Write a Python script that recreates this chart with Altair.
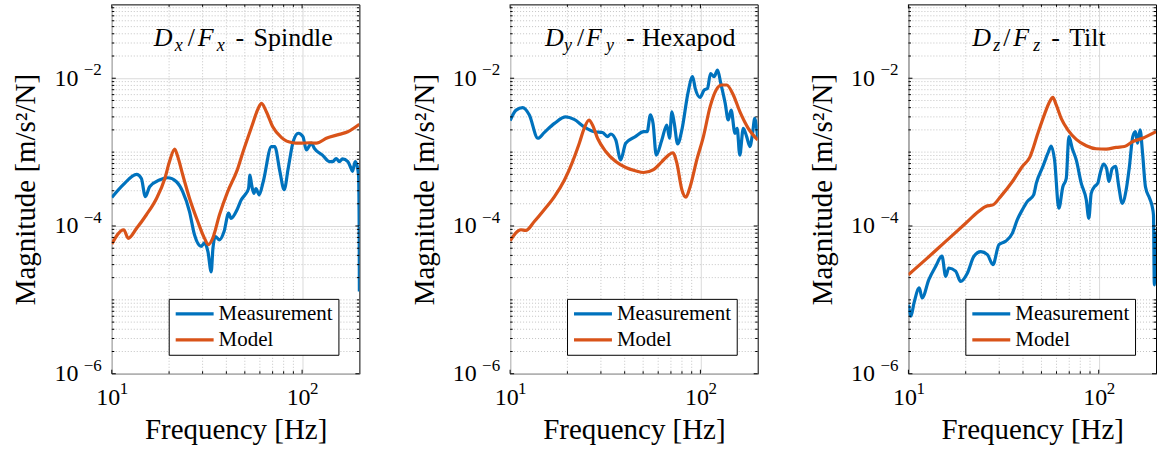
import altair as alt
import pandas as pd

FONT = "Liberation Serif"
BLUE = "#0072BD"
ORANGE = "#D95319"
GRID_MAJOR = "#dadada"
GRID_MINOR = "#c4c4c4"

# ---- D_x / F_x : Spindle ----
spindle_meas_f = [10, 11.46, 13.5, 14.3, 15, 15.8, 17.8, 19.7, 21.8, 23.6, 25.6, 27.2, 29.5, 30.7,
                  32.0, 33.3, 34.0, 35.0, 36.8, 38.9, 41.1, 42.3, 45.7, 47.9, 50.1, 52.3, 53.2, 54.3,
                  55.8, 57.2, 59.5, 62.5, 69.0, 71.8, 76.4, 80.5, 84.5, 89.8, 95.6, 101, 105.3, 112,
                  116, 128, 139, 145, 151, 157, 163, 174, 181, 184, 190, 194, 198, 199.5, 200]
spindle_meas_m = [2.43e-4, 3.6e-4, 5.0e-4, 4.4e-4, 2.5e-4, 3.4e-4, 4.2e-4, 4.5e-4, 4.0e-4, 2.9e-4,
                  1.57e-4, 7.6e-5, 5.3e-5, 5.9e-5, 4.5e-5, 2.4e-5, 5.0e-5, 7.2e-5, 6.5e-5, 8.4e-5,
                  1.49e-4, 1.27e-4, 1.7e-4, 2.26e-4, 2.64e-4, 3.2e-4, 4.9e-4, 3.6e-4, 2.77e-4, 3.2e-4,
                  2.64e-4, 4.0e-4, 1.19e-3, 1.19e-3, 5.5e-4, 3.1e-4, 6.0e-4, 1.39e-3, 1.8e-3, 1.62e-3,
                  1.07e-3, 1.32e-3, 1.12e-3, 9.1e-4, 7.45e-4, 7.45e-4, 8.2e-4, 7.45e-4, 8.1e-4,
                  7.45e-4, 6.0e-4, 5.5e-4, 7.45e-4, 6.7e-4, 4.9e-4, 1.0e-4, 1.3e-5]
spindle_model_f = [10, 11.55, 12.2, 13.5, 15.2, 17.2, 19.0, 20.1, 21.4, 22.2, 23.6, 25.6, 28.3, 30.7,
                   32.2, 33.9, 36.8, 40.6, 45.7, 49, 54.3, 58.8, 61.2, 65.0, 70.1, 78, 89, 97, 110,
                   119, 134, 157, 174, 200]
spindle_model_m = [5.7e-5, 8.9e-5, 6.8e-5, 9.3e-5, 1.42e-4, 2.38e-4, 4.4e-4, 7.45e-4, 1.1e-3, 8.7e-4,
                   4.9e-4, 2.38e-4, 1.15e-4, 6.8e-5, 5.6e-5, 6.8e-5, 1.42e-4, 2.9e-4, 5.8e-4, 1.02e-3,
                   2.2e-3, 3.9e-3, 4.57e-3, 3.5e-3, 2.2e-3, 1.57e-3, 1.34e-3, 1.32e-3, 1.34e-3,
                   1.32e-3, 1.54e-3, 1.74e-3, 1.89e-3, 2.38e-3]

# ---- D_y / F_y : Hexapod ----
hexapod_meas_f = [10, 10.75, 11.65, 12.6, 14.0, 15.1, 17.1, 19.6, 21.7, 24.5, 27.7, 30.6, 32.5, 33.8,
                  35.9, 38.1, 40.5, 45.5, 50.3, 52.5, 54.6, 56.4, 58.6, 62.7, 66.6, 68.8, 70.8, 72.9,
                  75.9, 80.2, 85.9, 91.0, 93.9, 99.6, 104.5, 109, 113, 118, 123, 128, 135, 140, 145,
                  152, 156, 161, 168, 175, 182, 188, 193, 200]
hexapod_meas_m = [2.67e-3, 3.7e-3, 4.0e-3, 3.2e-3, 1.54e-3, 1.84e-3, 2.45e-3, 3.0e-3, 2.77e-3, 2.2e-3,
                  1.89e-3, 1.84e-3, 1.62e-3, 1.76e-3, 1.46e-3, 7.85e-4, 1.32e-3, 1.62e-3, 1.89e-3,
                  1.89e-3, 3.2e-3, 2.45e-3, 9.1e-4, 1.46e-3, 2.33e-3, 1.54e-3, 3.5e-3, 2.45e-3,
                  1.29e-3, 2.1e-3, 6.2e-3, 1.05e-2, 7.3e-3, 5.5e-3, 6.9e-3, 7.3e-3, 1.16e-2, 1.05e-2,
                  1.29e-2, 8.5e-3, 4.57e-3, 2.72e-3, 3.7e-3, 1.8e-3, 2.1e-3, 9.1e-4, 2.1e-3, 1.62e-3,
                  1.19e-3, 1.8e-3, 2.86e-3, 1.54e-3]
hexapod_model_f = [10, 11.4, 12.1, 13.4, 15.1, 17.1, 19.3, 21.3, 23.1, 24.5, 26.0, 27.1, 28.8, 31.8,
                   35.9, 40.5, 45.5, 50.3, 56.7, 62.8, 68.0, 71.7, 75.2, 79.9, 83.9, 88.3, 95.7,
                   103.7, 112.4, 120.8, 129.4, 137.5, 148.9, 161.4, 178.4, 200]
hexapod_model_m = [6.3e-5, 8.9e-5, 8.7e-5, 1.15e-4, 1.66e-4, 2.5e-4, 4.2e-4, 7.45e-4, 1.32e-3, 2.1e-3,
                   2.72e-3, 2.33e-3, 1.54e-3, 1.02e-3, 7.45e-4, 6.2e-4, 5.6e-4, 5.3e-4, 5.8e-4,
                   7.45e-4, 9.1e-4, 9.8e-4, 7.1e-4, 3.1e-4, 2.46e-4, 3.4e-4, 7.85e-4, 1.62e-3, 4.1e-3,
                   6.9e-3, 8.1e-3, 8.1e-3, 5.93e-3, 3.5e-3, 2.1e-3, 1.46e-3]

# ---- D_z / F_z : Tilt ----
tilt_meas_f = [10, 10.3, 10.7, 11.4, 11.8, 12.8, 13.9, 15.0, 15.7, 16.3, 17.7, 18.8, 20.4, 22.1, 24.0,
               26.0, 27.8, 29.9, 32.4, 35.2, 37.3, 39.7, 42.1, 45.5, 47.0, 50.9, 54.0, 56.3, 58.6,
               61.7, 64.8, 67.5, 69.7, 72.6, 76.2, 80.9, 86.0, 88.7, 91.3, 95.0, 98.9, 101.8, 106,
               110, 113, 117.8, 122.5, 127.5, 132.9, 139.4, 145, 151, 156, 160, 165, 170, 176, 185,
               191, 194, 196, 198, 200]
tilt_meas_m = [8.6e-6, 6.0e-6, 9.1e-6, 1.45e-5, 1.06e-5, 1.88e-5, 2.84e-5, 3.9e-5, 2.08e-5, 2.7e-5,
               2.45e-5, 1.78e-5, 2.3e-5, 3.9e-5, 4.5e-5, 4.1e-5, 3.0e-5, 5.6e-5, 6.2e-5, 8.0e-5,
               1.21e-4, 1.66e-4, 2.14e-4, 2.64e-4, 3.8e-4, 6.4e-4, 9.6e-4, 1.21e-3, 7.85e-4, 1.74e-4,
               3.4e-4, 4.4e-4, 1.62e-3, 1.12e-3, 7.85e-4, 3.8e-4, 2.26e-4, 1.27e-4, 2.77e-4, 3.4e-4,
               3.8e-4, 5.2e-4, 6.9e-4, 6.0e-4, 4.0e-4, 6.0e-4, 6.4e-4, 3.4e-4, 2.03e-4, 3.1e-4,
               6.4e-4, 1.62e-3, 1.89e-3, 1.32e-3, 2.0e-3, 9.6e-4, 3.4e-4, 2.38e-4, 1.84e-4, 1.4e-4,
               1.6e-5, 7.0e-5, 8.5e-5]
tilt_model_f = [10, 12.3, 15.7, 20.0, 23.0, 25.5, 27.8, 30.5, 35.2, 39.7, 43.4, 47.9, 52.0, 55.2,
                57.4, 59.8, 63.5, 68.8, 76.2, 86.0, 97, 109.5, 123.6, 136.6, 151, 170, 200]
tilt_model_m = [2.19e-5, 3.5e-5, 6.2e-5, 1.09e-4, 1.52e-4, 1.84e-4, 1.93e-4, 2.5e-4, 4.0e-4, 6.4e-4,
                8.5e-4, 1.8e-3, 3.3e-3, 4.8e-3, 5.5e-3, 4.35e-3, 2.86e-3, 2.0e-3, 1.49e-3, 1.22e-3,
                1.11e-3, 1.1e-3, 1.16e-3, 1.19e-3, 1.39e-3, 1.54e-3, 1.89e-3]

series_names = ["Measurement", "Model"]
tick_base = "10"
x_tick_values = [10, 100]
x_tick_exponents = ["1", "2"]
y_tick_values = [1e-6, 1e-4, 1e-2]
y_tick_exponents = ["−6", "−4", "−2"]
x_title = "Frequency [Hz]"
y_title = "Magnitude [m/s²/N]"

# Panel titles, as (text, style, left offset in px); style: "i" italic, "s" italic subscript, "r" roman
panel_titles = [
    [("D", "i", 42), ("x", "s", 63), ("/", "r", 76), ("F", "i", 86), ("x", "s", 105),
     ("-", "r", 124), ("Spindle", "r", 142)],
    [("D", "i", 35), ("y", "s", 54), ("/", "r", 67), ("F", "i", 76), ("y", "s", 96),
     ("-", "r", 116), ("Hexapod", "r", 132)],
    [("D", "i", 64), ("z", "s", 85), ("/", "r", 95), ("F", "i", 105), ("z", "s", 125),
     ("-", "r", 143), ("Tilt", "r", 161)],
]

W, H = 248, 370
X_DOMAIN = [10, 200]
Y_DOMAIN = [1e-6, 1e-1]

x_minor = [k * 10 for k in range(2, 10)]
y_minor = [k * 10.0 ** e for e in range(-6, -1) for k in range(1, 10)
           if not (k == 1 and 10.0 ** e in y_tick_values)]

xs = alt.Scale(type="log", domain=X_DOMAIN, nice=False)
ys = alt.Scale(type="log", domain=Y_DOMAIN, nice=False)

# One axis definition shared by every layer, so the layered axes merge cleanly.
# The axes print the mantissa "10"; the exponents are drawn as superscript text layers.
X_AXIS = alt.Axis(values=x_tick_values, labelExpr=f"'{tick_base}'", labelOffset=-4,
                  labelFlush=False, labelPadding=12, titlePadding=6)
Y_AXIS = alt.Axis(values=y_tick_values, labelExpr=f"'{tick_base}'",
                  labelFlush=False, labelPadding=34, titlePadding=13)


def xenc(field):
    return alt.X(field, scale=xs, title=x_title, axis=X_AXIS)


def yenc(field):
    return alt.Y(field, scale=ys, title=y_title, axis=Y_AXIS)


def tick_rules(values, side, length):
    df = pd.DataFrame({"v": values})
    base = alt.Chart(df).mark_rule(color="black", strokeWidth=1)
    if side == "bottom":
        return base.encode(x=xenc("v:Q"), y=alt.value(H), y2=alt.value(H - length))
    if side == "top":
        return base.encode(x=xenc("v:Q"), y=alt.value(0), y2=alt.value(length))
    if side == "left":
        return base.encode(y=yenc("v:Q"), x=alt.value(0), x2=alt.value(length))
    return base.encode(y=yenc("v:Q"), x=alt.value(W), x2=alt.value(W - length))


def exponents():
    x_exp = alt.Chart(pd.DataFrame({"v": x_tick_values, "e": x_tick_exponents})).mark_text(
        font=FONT, fontSize=17, align="left", baseline="alphabetic", color="black", dx=8
    ).encode(x=xenc("v:Q"), y=alt.value(H + 20), text="e:N")
    y_exp = alt.Chart(pd.DataFrame({"v": y_tick_values, "e": y_tick_exponents})).mark_text(
        font=FONT, fontSize=17, align="right", baseline="middle", color="black", dy=-8
    ).encode(y=yenc("v:Q"), x=alt.value(-10), text="e:N")
    return [x_exp, y_exp]


LEGEND = alt.Legend(orient="none", legendX=57, legendY=295, title=None,
                    strokeColor="black", fillColor="white", padding=5,
                    symbolType="stroke", symbolSize=1444, symbolStrokeWidth=3.2,
                    labelFont=FONT, labelFontSize=21, labelColor="black",
                    labelOffset=3, rowPadding=5, clipHeight=20)
COLOR = alt.Color("series:N", scale=alt.Scale(domain=series_names, range=[BLUE, ORANGE]),
                  legend=LEGEND)


def panel(meas_f, meas_m, model_f, model_m, title):
    meas = pd.DataFrame({"f": meas_f, "m": meas_m, "series": series_names[0]})
    model = pd.DataFrame({"f": model_f, "m": model_m, "series": series_names[1]})

    grid_x = alt.Chart(pd.DataFrame({"v": x_minor})).mark_rule(
        color=GRID_MINOR, strokeDash=[1, 2], strokeWidth=1
    ).encode(x=xenc("v:Q"))
    grid_y = alt.Chart(pd.DataFrame({"v": y_minor})).mark_rule(
        color=GRID_MINOR, strokeDash=[1, 2], strokeWidth=1
    ).encode(y=yenc("v:Q"))

    meas_line = alt.Chart(meas).mark_line(strokeWidth=3.2, clip=True, interpolate="monotone").encode(
        x=xenc("f:Q"), y=yenc("m:Q"), color=COLOR, order=alt.Order("f:Q"))
    model_line = alt.Chart(model).mark_line(strokeWidth=3.2, clip=True, interpolate="monotone").encode(
        x=xenc("f:Q"), y=yenc("m:Q"), color=COLOR, order=alt.Order("f:Q"))

    ticks = [
        tick_rules(x_tick_values, "bottom", 4), tick_rules(x_tick_values, "top", 4),
        tick_rules(x_minor, "bottom", 2.5), tick_rules(x_minor, "top", 2.5),
        tick_rules(y_tick_values, "left", 4), tick_rules(y_tick_values, "right", 4),
        tick_rules(y_minor, "left", 2.5), tick_rules(y_minor, "right", 2.5),
    ]

    texts = []
    for txt, style, dx in title:
        sub = style == "s"
        texts.append(
            alt.Chart(pd.DataFrame({"t": [txt]})).mark_text(
                font=FONT, fontSize=18 if sub else 26,
                fontStyle="italic" if style in ("i", "s") else "normal",
                align="left", baseline="alphabetic", color="black",
            ).encode(text="t:N", x=alt.value(dx), y=alt.value(47 if sub else 42))
        )

    return alt.layer(grid_x, grid_y, meas_line, model_line, *ticks, *exponents(), *texts).properties(
        width=W, height=H)


p1 = panel(spindle_meas_f, spindle_meas_m, spindle_model_f, spindle_model_m, panel_titles[0])
p2 = panel(hexapod_meas_f, hexapod_meas_m, hexapod_model_f, hexapod_model_m, panel_titles[1])
p3 = panel(tilt_meas_f, tilt_meas_m, tilt_model_f, tilt_model_m, panel_titles[2])

chart = (
    alt.hconcat(p1, p2, p3, spacing=151)
    .properties(bounds="flush", padding={"left": 11, "top": 3, "right": 2, "bottom": 0})
    .resolve_legend(color="independent")
    .configure_view(stroke="black", strokeWidth=1)
    .configure_axis(
        labelFont=FONT, labelFontSize=24, labelColor="black",
        titleFont=FONT, titleFontSize=29, titleFontWeight="normal", titleColor="black",
        ticks=False, tickSize=0, domain=False,
        grid=True, gridColor=GRID_MAJOR, gridWidth=1,
    )
)

chart.save("out.html", embed_options={"renderer": "svg", "actions": False})
